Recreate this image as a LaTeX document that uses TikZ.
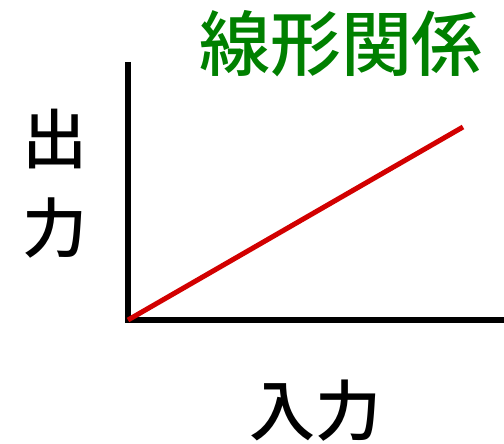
\documentclass[tikz,border=0pt]{standalone}
\usepackage{fontspec}
\newfontfamily\cjk{Noto Sans CJK JP Medium}
\usepackage{tikz}
\usetikzlibrary{positioning}
\definecolor{titlegreen}{RGB}{0,128,0}
\definecolor{linered}{RGB}{210,0,0}

\begin{document}
\begin{tikzpicture}[x=1pt,y=-1pt]
            \useasboundingbox (0,0) rectangle (504,444);

            % Axes
            \coordinate (origin) at (128,320);
            \coordinate (ytop) at (128,62);
            \coordinate (xend) at (504,320);
            \draw[line width=5.5pt] (ytop) -- (origin) -- (xend);

            % Linear relation
            \coordinate (lineend) at (463,127);
            \draw[linered, line width=5pt] (origin) -- (lineend);

            % Labels
            \node[text=titlegreen, font=\cjk\fontsize{71}{71}\selectfont] (title) at (341,44) {線形関係};
            \node[align=center, font=\cjk\fontsize{65}{89}\selectfont] (output) at (55,184) {出\\力};
            \node[font=\cjk\fontsize{66}{66}\selectfont] (input) at (315,411) {入力};
        \end{tikzpicture}
\end{document}
